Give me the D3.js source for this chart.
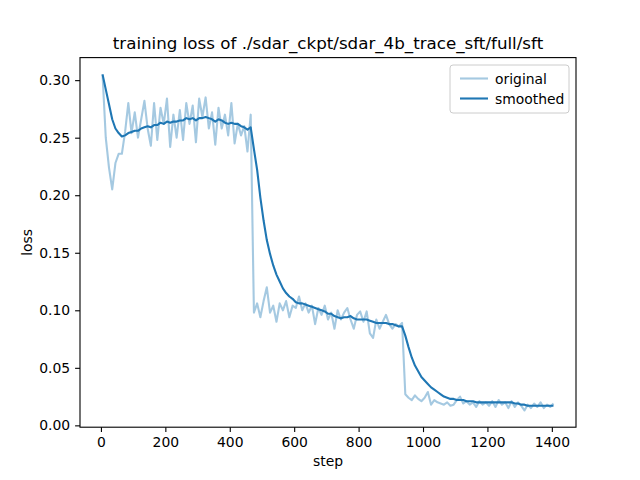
<!DOCTYPE html>
<html>
<head>
<meta charset="utf-8">
<script src="https://cdn.jsdelivr.net/npm/d3@7"></script>
<style>
	body { margin: 0; background: #fff; }
	svg { font-family: "DejaVu Sans", sans-serif; }
</style>
</head>
<body>
<div id="chart"></div>
<script>

// loss logged every 10 steps, first at step 5
var steps = d3.range(5, 1406, 10);

var original = [
	0.305, 0.250, 0.224, 0.205, 0.228, 0.236, 0.236, 0.255, 0.280, 0.254,
	0.272, 0.250, 0.266, 0.282, 0.258, 0.243, 0.280, 0.248, 0.276, 0.262,
	0.284, 0.242, 0.270, 0.250, 0.274, 0.248, 0.280, 0.262, 0.278, 0.246,
	0.284, 0.268, 0.285, 0.258, 0.272, 0.244, 0.276, 0.258, 0.270, 0.252,
	0.280, 0.245, 0.262, 0.252, 0.260, 0.238, 0.270, 0.098, 0.106, 0.094,
	0.108, 0.120, 0.098, 0.104, 0.090, 0.106, 0.100, 0.108, 0.094, 0.104,
	0.102, 0.112, 0.100, 0.106, 0.098, 0.104, 0.088, 0.102, 0.096, 0.104,
	0.092, 0.098, 0.084, 0.100, 0.092, 0.098, 0.102, 0.092, 0.084, 0.096,
	0.099, 0.090, 0.099, 0.080, 0.076, 0.092, 0.084, 0.090, 0.096, 0.088,
	0.084, 0.088, 0.086, 0.089, 0.027, 0.024, 0.022, 0.026, 0.023, 0.021,
	0.024, 0.029, 0.018, 0.022, 0.020, 0.019, 0.018, 0.020, 0.017, 0.018,
	0.022, 0.025, 0.019, 0.021, 0.018, 0.020, 0.016, 0.021, 0.018, 0.020,
	0.017, 0.021, 0.016, 0.022, 0.018, 0.020, 0.015, 0.021, 0.016, 0.020,
	0.017, 0.013, 0.018, 0.015, 0.019, 0.016, 0.020, 0.015, 0.018, 0.016,
	0.019
];

var smoothed = [
	0.305, 0.292, 0.279, 0.266, 0.258, 0.254, 0.251, 0.252, 0.254, 0.255,
	0.256, 0.256, 0.258, 0.259, 0.260, 0.259, 0.261, 0.261, 0.263, 0.262,
	0.264, 0.263, 0.264, 0.264, 0.265, 0.265, 0.267, 0.266, 0.267, 0.265,
	0.267, 0.267, 0.268, 0.267, 0.266, 0.264, 0.266, 0.265, 0.263, 0.262,
	0.263, 0.262, 0.262, 0.260, 0.259, 0.257, 0.259, 0.240, 0.222, 0.198,
	0.178, 0.161, 0.149, 0.139, 0.131, 0.125, 0.119, 0.115, 0.112, 0.110,
	0.107, 0.106, 0.106, 0.105, 0.104, 0.103, 0.102, 0.101, 0.100, 0.099,
	0.097, 0.097, 0.095, 0.094, 0.093, 0.094, 0.094, 0.095, 0.093, 0.092,
	0.092, 0.092, 0.092, 0.091, 0.090, 0.089, 0.089, 0.089, 0.089, 0.088,
	0.088, 0.087, 0.086, 0.086, 0.078, 0.068, 0.059, 0.052, 0.047, 0.042,
	0.039, 0.036, 0.033, 0.031, 0.029, 0.027, 0.025, 0.024, 0.023, 0.023,
	0.022, 0.022, 0.022, 0.021, 0.021, 0.021, 0.020, 0.020, 0.020, 0.020,
	0.020, 0.020, 0.020, 0.020, 0.020, 0.020, 0.020, 0.020, 0.019, 0.019,
	0.018, 0.018, 0.017, 0.017, 0.017, 0.017, 0.017, 0.017, 0.017, 0.017,
	0.017
];

var xTicks = [0, 200, 400, 600, 800, 1000, 1200, 1400];
var yTicks = [0.00, 0.05, 0.10, 0.15, 0.20, 0.25, 0.30];
var seriesNames = ['original', 'smoothed'];

var title = 'training loss of ./sdar_ckpt/sdar_4b_trace_sft/full/sft';

function draw_chart() {
	var width = 640, height = 480;
	var margin = {left: 80, right: 64, top: 57.6, bottom: 52.8};
	var w = width - margin.left - margin.right;
	var h = height - margin.top - margin.bottom;
	var blue = '#1f77b4';

	var svg = d3.select('#chart').append('svg')
		.attr('width', width).attr('height', height);

	// matplotlib style 5% padding on both axes
	var xext = d3.extent(steps);
	var xpad = (xext[1] - xext[0]) * 0.05;
	var yext = d3.extent(original.concat(smoothed));
	var ypad = (yext[1] - yext[0]) * 0.05;

	var x = d3.scaleLinear().domain([xext[0] - xpad, xext[1] + xpad]).range([0, w]);
	var y = d3.scaleLinear().domain([yext[0] - ypad, yext[1] + ypad]).range([h, 0]);

	var g = svg.append('g')
		.attr('transform', 'translate(' + margin.left + ',' + margin.top + ')');

	var line = d3.line()
		.x(function(d, i) { return x(steps[i]); })
		.y(function(d) { return y(d); });

	g.append('path').datum(original)
		.attr('d', line)
		.attr('fill', 'none')
		.attr('stroke', blue)
		.attr('stroke-opacity', 0.4)
		.attr('stroke-width', 2.1)
		.attr('stroke-linejoin', 'round');

	g.append('path').datum(smoothed)
		.attr('d', line)
		.attr('fill', 'none')
		.attr('stroke', blue)
		.attr('stroke-width', 2.1)
		.attr('stroke-linejoin', 'round');

	var xAxis = g.append('g')
		.attr('transform', 'translate(0,' + h + ')')
		.call(d3.axisBottom(x).tickValues(xTicks).tickSize(4.9).tickPadding(4.9).tickFormat(d3.format('d')));
	var yAxis = g.append('g')
		.call(d3.axisLeft(y).tickValues(yTicks).tickSize(4.9).tickPadding(4.9).tickFormat(d3.format('.2f')));

	[xAxis, yAxis].forEach(function(a) {
		a.select('.domain').remove();
		a.selectAll('line').attr('stroke', '#000').attr('stroke-width', 1.1);
		a.selectAll('text').attr('font-size', 13.9).attr('fill', '#000')
			.attr('font-family', '"DejaVu Sans", sans-serif');
	});

	// frame
	g.append('rect')
		.attr('width', w).attr('height', h)
		.attr('fill', 'none').attr('stroke', '#000').attr('stroke-width', 1.1);

	svg.append('text')
		.attr('x', margin.left + w / 2).attr('y', margin.top - 8.3)
		.attr('text-anchor', 'middle').attr('font-size', 16.7)
		.text(title);

	svg.append('text')
		.attr('x', margin.left + w / 2).attr('y', 466)
		.attr('text-anchor', 'middle').attr('font-size', 13.9)
		.text('step');

	svg.append('text')
		.attr('transform', 'translate(32,' + (margin.top + h / 2) + ') rotate(-90)')
		.attr('text-anchor', 'middle').attr('font-size', 13.9)
		.text('loss');

	// legend
	var legend = svg.append('g').attr('transform', 'translate(450,65)');
	legend.append('rect')
		.attr('width', 119).attr('height', 48).attr('rx', 3)
		.attr('fill', '#fff').attr('fill-opacity', 0.8)
		.attr('stroke', '#cccccc').attr('stroke-width', 1);

	seriesNames.forEach(function(name, i) {
		var ly = 13.5 + i * 20;
		legend.append('line')
			.attr('x1', 10).attr('x2', 38).attr('y1', ly).attr('y2', ly)
			.attr('stroke', blue).attr('stroke-width', 2.1)
			.attr('stroke-opacity', i == 0 ? 0.4 : 1);
		legend.append('text')
			.attr('x', 45).attr('y', ly + 5)
			.attr('font-size', 13.9)
			.text(name);
	});
}

draw_chart();

</script>
</body>
</html>
